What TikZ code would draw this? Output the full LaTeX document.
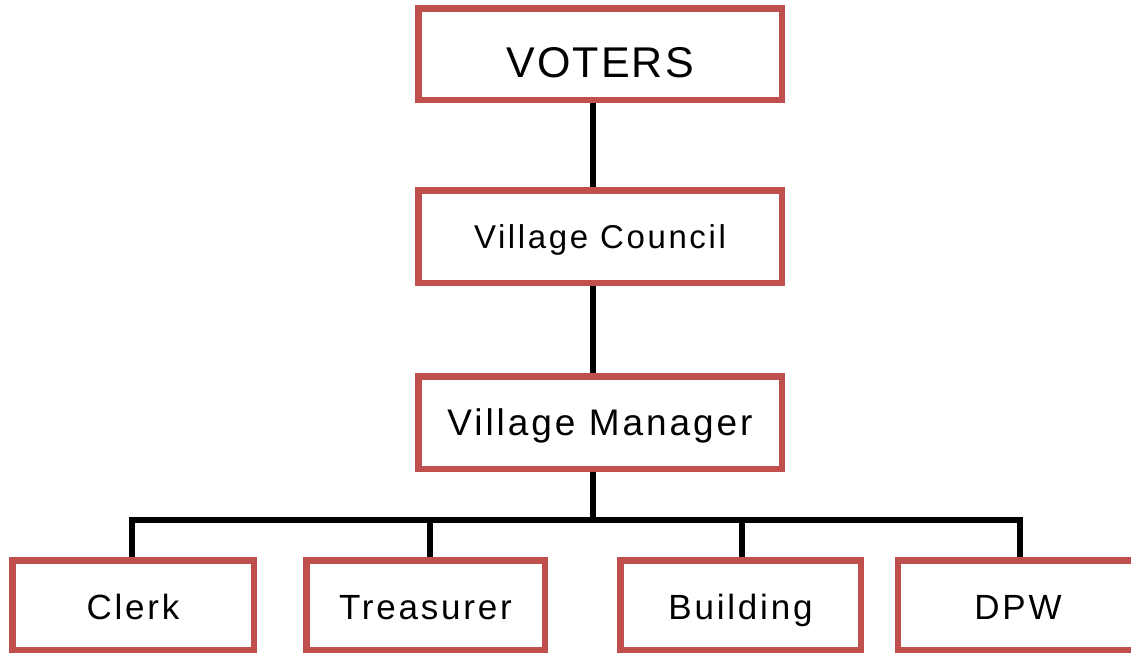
\documentclass[tikz,border=0pt]{standalone}
\usepackage{fontspec}
\setmainfont{Liberation Sans}
\newfontfamily\boxfont[LetterSpace=8]{Liberation Sans}
\newfontfamily\topfont[LetterSpace=5]{Liberation Sans}
\definecolor{boxred}{HTML}{C0504D}

\begin{document}
\begin{tikzpicture}[x=1pt,y=-1pt,
  unit/.style={draw=boxred,line width=6.5pt,fill=white,inner sep=0pt,text depth=0pt},
  link/.style={line width=6pt}]
\path[use as bounding box,clip] (0,0) rectangle (1131,653);

\node[unit,minimum width=363.5pt,minimum height=91.5pt,text height=47pt,
  font=\topfont\fontsize{43}{43}\selectfont] (voters) at (600,54) {VOTERS};
\node[unit,minimum width=363.5pt,minimum height=92.5pt,text height=23.6pt,
  font=\boxfont\fontsize{33}{33}\selectfont] (council) at (600,236.5) {Village Council};
\node[unit,minimum width=363.5pt,minimum height=92.5pt,text height=26.5pt,
  font=\boxfont\fontsize{37}{37}\selectfont] (manager) at (600,422.5) {Village Manager};

\node[unit,minimum width=241.5pt,minimum height=89.5pt,text height=29.4pt,
  font=\boxfont\fontsize{35}{35}\selectfont] (clerk) at (133,605) {Clerk};
\node[unit,minimum width=238.5pt,minimum height=89.5pt,text height=29.4pt,
  font=\boxfont\fontsize{35}{35}\selectfont] (treasurer) at (425.5,605) {Treasurer};
\node[unit,minimum width=240.5pt,minimum height=89.5pt,text height=29.4pt,
  font=\boxfont\fontsize{35}{35}\selectfont] (building) at (740.5,605) {Building};
\node[unit,minimum width=240.5pt,minimum height=89.5pt,text height=29.4pt,
  font=\boxfont\fontsize{35}{35}\selectfont] (dpw) at (1018,605) {DPW};

\coordinate (bus) at (593,520);

\draw[link] ([xshift=-7pt]voters.south) -- ([xshift=-7pt]council.north);
\draw[link] ([xshift=-7pt]council.south) -- ([xshift=-7pt]manager.north);
\draw[link] ([xshift=-7pt]manager.south) -- (bus);
\draw[link] ([xshift=-1pt]clerk.north) |- (bus) -| ([xshift=2pt]dpw.north);
\draw[link] ([xshift=4.5pt]treasurer.north) -- ([xshift=4.5pt]treasurer.north |- bus);
\draw[link] ([xshift=1.5pt]building.north) -- ([xshift=1.5pt]building.north |- bus);
\end{tikzpicture}
\end{document}
